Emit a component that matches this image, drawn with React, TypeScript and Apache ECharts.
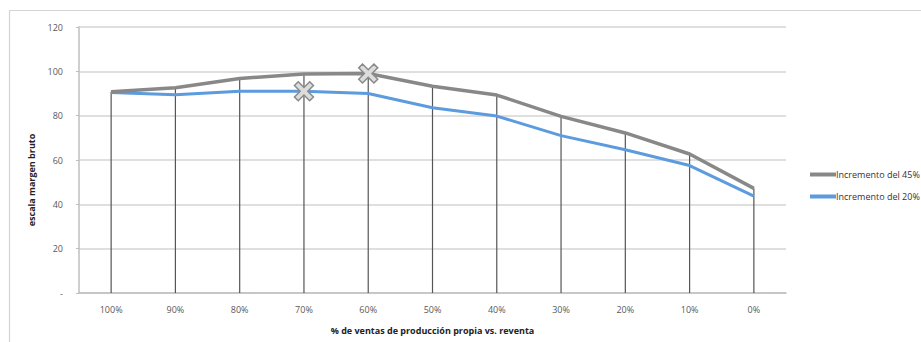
import React, { useEffect, useRef } from "react";
import * as echarts from "echarts";

const categories = ["100%", "90%", "80%", "70%", "60%", "50%", "40%", "30%", "20%", "10%", "0%"];
const inc45 = [90.8, 92.6, 96.8, 98.8, 99, 93.3, 89.3, 79.7, 72.2, 62.7, 47.2];
const inc20 = [90.5, 89.4, 91, 91, 90, 83.6, 79.8, 71, 64.6, 57.5, 43.7];
const marker45Index = 4;
const marker20Index = 3;
const yTicks = { min: 0, max: 120, interval: 20 };

const CROSS = "path://M2,0 L5,3 L8,0 L10,2 L7,5 L10,8 L8,10 L5,7 L2,10 L0,8 L3,5 L0,2 Z";

export default function App() {
  const ref = useRef<HTMLDivElement>(null);
  useEffect(() => {
    if (!ref.current) return;
    const chart = echarts.init(ref.current, null, { renderer: "svg" });
    const font = "'Open Sans', 'Liberation Sans', sans-serif";
    const markerStyle = {
      symbol: CROSS,
      symbolSize: 19,
      itemStyle: { color: "#dcdcdc", borderColor: "#8a8a8a", borderWidth: 1.5, opacity: 1 },
    };
    const mk = (arr: number[], idx: number) =>
      arr.map((v, i) => (i === idx ? { value: v, ...markerStyle } : v));
    const drop = inc45.map((v, i) => Math.max(v, inc20[i]));
    chart.setOption({
      animation: false,
      backgroundColor: "#fff",
      textStyle: { fontFamily: font },
      grid: { left: 79, right: 135, top: 27, bottom: 49, containLabel: false },
      graphic: [
        {
          type: "rect",
          shape: { x: 9.5, y: 10.5, width: 930, height: 400 },
          style: { fill: "none", stroke: "#d4d4d4", lineWidth: 1.2 },
          silent: true,
          z: -10,
        },
        {
          type: "text",
          x: 31,
          y: 180,
          rotation: Math.PI / 2,
          style: {
            text: "escala margen bruto",
            font: `bold 9px ${font}`,
            fill: "#222",
            align: "center",
            verticalAlign: "middle",
          },
        },
      ],
      legend: {
        data: [
          { name: "Incremento del 45%", icon: "rect" },
          { name: "Incremento del 20%", icon: "rect" },
        ],
        orient: "vertical",
        left: 805,
        top: 165,
        itemWidth: 26,
        itemHeight: 4,
        itemGap: 13,
        textStyle: { fontSize: 9, color: "#333", fontFamily: font, padding: [0, 0, 0, -5] },
      },
      xAxis: {
        type: "category",
        data: categories,
        boundaryGap: true,
        axisLine: { show: true, lineStyle: { color: "#bfbfbf", width: 1.5 } },
        axisTick: { show: false },
        axisLabel: { fontSize: 9, color: "#595959", margin: 12 },
        splitLine: { show: false },
        name: "% de ventas de producción propia vs. reventa",
        nameLocation: "middle",
        nameGap: 33,
        nameTextStyle: { fontSize: 9, fontWeight: "bold", color: "#222" },
      },
      yAxis: {
        type: "value",
        min: yTicks.min,
        max: yTicks.max,
        interval: yTicks.interval,
        axisLine: { show: true, lineStyle: { color: "#bfbfbf", width: 1.5 } },
        axisTick: { show: true, length: 3, lineStyle: { color: "#bfbfbf" } },
        axisLabel: {
          fontSize: 9,
          color: "#595959",
          margin: 16,
          formatter: (v: number) => (v === 0 ? "-" : String(v)),
        },
        splitLine: { show: true, lineStyle: { color: "#d4d4d4", width: 1.5 } },
      },
      series: [
        {
          name: "drop",
          type: "bar",
          data: drop,
          barWidth: 1.2,
          itemStyle: { color: "#555" },
          silent: true,
          z: 1,
        },
        {
          name: "Incremento del 45%",
          type: "line",
          data: mk(inc45, marker45Index),
          lineStyle: { color: "#888888", width: 3.5 },
          itemStyle: { color: "#888888" },
          symbol: "none",
          showSymbol: true,
          z: 3,
        },
        {
          name: "Incremento del 20%",
          type: "line",
          data: mk(inc20, marker20Index),
          lineStyle: { color: "#5b9bde", width: 3 },
          itemStyle: { color: "#5b9bde" },
          symbol: "none",
          showSymbol: true,
          z: 2,
        },
      ],
    });
    return () => chart.dispose();
  }, []);
  return (
    <div
      ref={ref}
      style={{ position: "fixed", left: 0, top: 0, width: 921, height: 342 }}
    />
  );
}
